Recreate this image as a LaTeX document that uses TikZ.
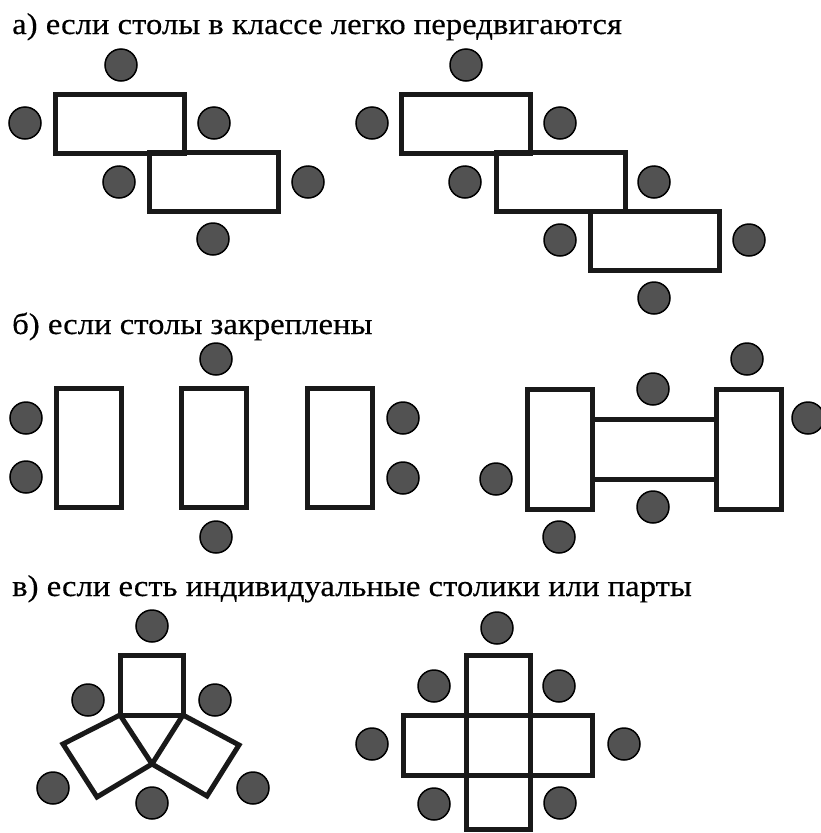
\documentclass[tikz,border=0pt]{standalone}
\usepackage{fontspec}
\setmainfont{Liberation Serif}
\newfontfamily\captionfont[FakeStretch=1.09,FakeBold=0.4]{Liberation Serif}
\begin{document}
\begin{tikzpicture}[x=1pt,y=-1pt,
  chair/.style={circle,draw=black,line width=1.5pt,fill=black!68,minimum size=32pt,inner sep=0pt},
  desk/.style={rectangle,draw=black!90,line width=5pt,inner sep=0pt,minimum width=129pt,minimum height=59pt},
  tall/.style={rectangle,draw=black!90,line width=5pt,inner sep=0pt,minimum width=65pt,minimum height=119pt},
  edge/.style={draw=black!90,line width=5pt,line join=miter},
  caption/.style={anchor=base west,inner sep=0pt,font=\captionfont\fontsize{30}{34}\selectfont}]
\useasboundingbox (0,0) rectangle (821,833);

% --- а) ---
\node[caption] (ta) at (12,34) {а) если столы в классе легко передвигаются};

\node[desk] (a1) at (119.5,123.5) {};
\node[desk] (a2) at (214,182) {};
\node[chair] (ac1) at (121,65) {};
\node[chair] (ac2) at (25,123) {};
\node[chair] (ac3) at (214,123) {};
\node[chair] (ac4) at (119,182) {};
\node[chair] (ac5) at (308,182) {};
\node[chair] (ac6) at (213,239) {};

\node[desk] (b1) at (465.5,123.5) {};
\node[desk] (b2) at (561,182) {};
\node[desk] (b3) at (654.5,240.5) {};
\node[chair] (bc1) at (466,65) {};
\node[chair] (bc2) at (372,123) {};
\node[chair] (bc3) at (560,123) {};
\node[chair] (bc4) at (465,182) {};
\node[chair] (bc5) at (654,182) {};
\node[chair] (bc6) at (560,240) {};
\node[chair] (bc7) at (749,240) {};
\node[chair] (bc8) at (654,298) {};

% --- б) ---
\node[caption] (tb) at (12,334) {б) если столы закреплены};

\node[tall] (c1) at (88.5,448) {};
\node[tall] (c2) at (214,448) {};
\node[tall] (c3) at (340,448) {};
\node[chair] (cc1) at (216,359) {};
\node[chair] (cc2) at (26,418) {};
\node[chair] (cc3) at (26,477) {};
\node[chair] (cc4) at (403,418) {};
\node[chair] (cc5) at (403,478) {};
\node[chair] (cc6) at (216,537) {};

\node[tall,minimum height=120pt] (d1) at (560,449) {};
\node[tall,minimum height=120pt] (d3) at (748.5,449) {};
\node[desk,minimum width=124pt,minimum height=60pt] (d2) at (654,449) {};
\node[chair] (dc1) at (747,359) {};
\node[chair] (dc2) at (653,389) {};
\node[chair] (dc3) at (808,418) {};
\node[chair] (dc4) at (496,479) {};
\node[chair] (dc5) at (653,507) {};
\node[chair] (dc6) at (559,537) {};

% --- в) ---
\node[caption] (tc) at (12,596) {в) если есть индивидуальные столики или парты};

% three desks around a common corner
\coordinate (p1) at (120,715);
\coordinate (p2) at (183,715);
\coordinate (pc) at (152,764);
\draw[edge] (120,655) rectangle (183,715);
\draw[edge] (p1) -- (63,744) -- (97,797) -- (pc) -- cycle;
\draw[edge] (p2) -- (239,745) -- (207,796) -- (pc) -- cycle;
\node[chair] (ec1) at (152,626) {};
\node[chair] (ec2) at (88,700) {};
\node[chair] (ec3) at (215,700) {};
\node[chair] (ec4) at (53,788) {};
\node[chair] (ec5) at (152,803) {};
\node[chair] (ec6) at (253,788) {};

% five desks in a cross
\draw[edge] (466,655) rectangle (530,829);
\draw[edge] (403,715) rectangle (592,775);
\node[chair] (fc1) at (497,628) {};
\node[chair] (fc2) at (434,686) {};
\node[chair] (fc3) at (559,686) {};
\node[chair] (fc4) at (372,744) {};
\node[chair] (fc5) at (624,744) {};
\node[chair] (fc6) at (434,804) {};
\node[chair] (fc7) at (560,803) {};
\end{tikzpicture}
\end{document}
